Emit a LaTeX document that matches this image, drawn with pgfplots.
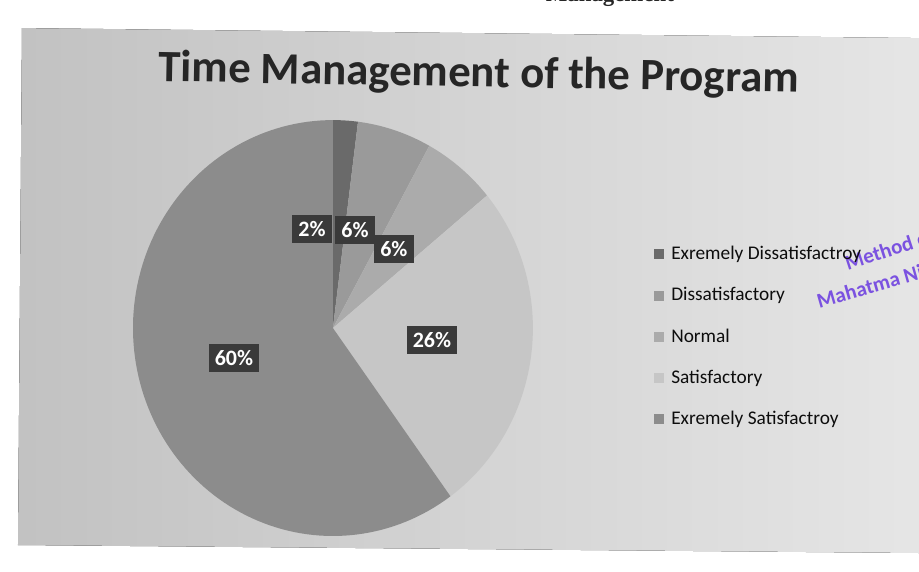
\documentclass[border=0pt]{standalone}
\usepackage{pgfplots}
\pgfplotsset{compat=1.18}
\usepackage{fontspec}
\setmainfont{Carlito}
\newfontfamily\serifb{Liberation Serif}
\definecolor{cA}{HTML}{6A6A6A}
\definecolor{cB}{HTML}{9A9A9A}
\definecolor{cC}{HTML}{ABABAB}
\definecolor{cD}{HTML}{C6C6C6}
\definecolor{cE}{HTML}{8C8C8C}
\definecolor{boxc}{HTML}{3A3A3A}
\definecolor{stamp}{HTML}{7B52E0}
% percentages
\def\pA{2}\def\pB{6}\def\pC{6}\def\pD{26}\def\pE{60}
\pgfmathsetmacro{\aA}{90-3.6*\pA}
\pgfmathsetmacro{\aB}{\aA-3.6*\pB}
\pgfmathsetmacro{\aC}{\aB-3.6*\pC}
\pgfmathsetmacro{\aD}{\aC-3.6*\pD}
\pgfmathsetmacro{\aE}{\aD-3.6*\pE}
\begin{document}
\begin{tikzpicture}[x=0.02cm,y=0.02cm]
\useasboundingbox (0,0) rectangle (919,571);
\fill[white] (0,0) rectangle (919,571);
\begin{axis}[at={(0,0)}, anchor=south west, width=18.38cm, height=11.42cm,
  scale only axis, xmin=0, xmax=919, ymin=0, ymax=571, hide axis, clip=false,
  area legend,
  legend image code/.code={\fill[#1] (0cm,-0.1cm) rectangle (0.2cm,0.1cm);},
  legend style={draw=none, fill=none, at={(axis cs:654,327)}, anchor=north west,
    font=\fontsize{11}{12}\selectfont, row sep=12.4pt, inner sep=0pt,
    nodes={inner sep=1pt, text=black!95}},
  legend cell align=left]
\fill[left color=black!24, right color=black!10] (axis cs:18,26) -- (axis cs:919,18) -- (axis cs:919,533) -- (axis cs:22,543) -- cycle;
\node[font=\serifb\bfseries\fontsize{13}{15}\selectfont, text=black!85] at (axis cs:610,575) {Management};
\node[font=\bfseries\fontsize{25.5}{30}\selectfont, text=black!85, rotate=-1] at (axis cs:479,496) {Time Management of the Program};
\addplot[draw=none, fill=cA, domain=\aA:90, samples=10] ({333+200*cos(x)},{243+208*sin(x)}) -- (axis cs:333,243) -- cycle;
\addplot[draw=none, fill=cB, domain=\aB:\aA, samples=20] ({333+200*cos(x)},{243+208*sin(x)}) -- (axis cs:333,243) -- cycle;
\addplot[draw=none, fill=cC, domain=\aC:\aB, samples=20] ({333+200*cos(x)},{243+208*sin(x)}) -- (axis cs:333,243) -- cycle;
\addplot[draw=none, fill=cD, domain=\aD:\aC, samples=60] ({333+200*cos(x)},{243+208*sin(x)}) -- (axis cs:333,243) -- cycle;
\addplot[draw=none, fill=cE, domain=\aE:\aD, samples=120] ({333+200*cos(x)},{243+208*sin(x)}) -- (axis cs:333,243) -- cycle;
\legend{\hspace{3pt}Exremely Dissatisfactroy, \hspace{3pt}Dissatisfactory, \hspace{3pt}Normal, \hspace{3pt}Satisfactory, \hspace{3pt}Exremely Satisfactroy}
\tikzset{lbl/.style={fill=boxc, text=white, font=\bfseries\fontsize{12.5}{14}\selectfont, inner sep=3.5pt}}
\node[lbl] at (axis cs:312,342) {2\%};
\node[lbl] at (axis cs:355,341) {6\%};
\node[lbl] at (axis cs:394,322) {6\%};
\node[lbl] at (axis cs:432,231) {26\%};
\node[lbl] at (axis cs:234,213) {60\%};
\node[font=\bfseries\fontsize{12}{14}\selectfont, text=stamp, rotate=18] at (axis cs:890,322) {Method of};
\node[font=\bfseries\fontsize{12}{14}\selectfont, text=stamp, rotate=16] at (axis cs:870,285) {Mahatma Ni};
\end{axis}
\end{tikzpicture}
\end{document}
